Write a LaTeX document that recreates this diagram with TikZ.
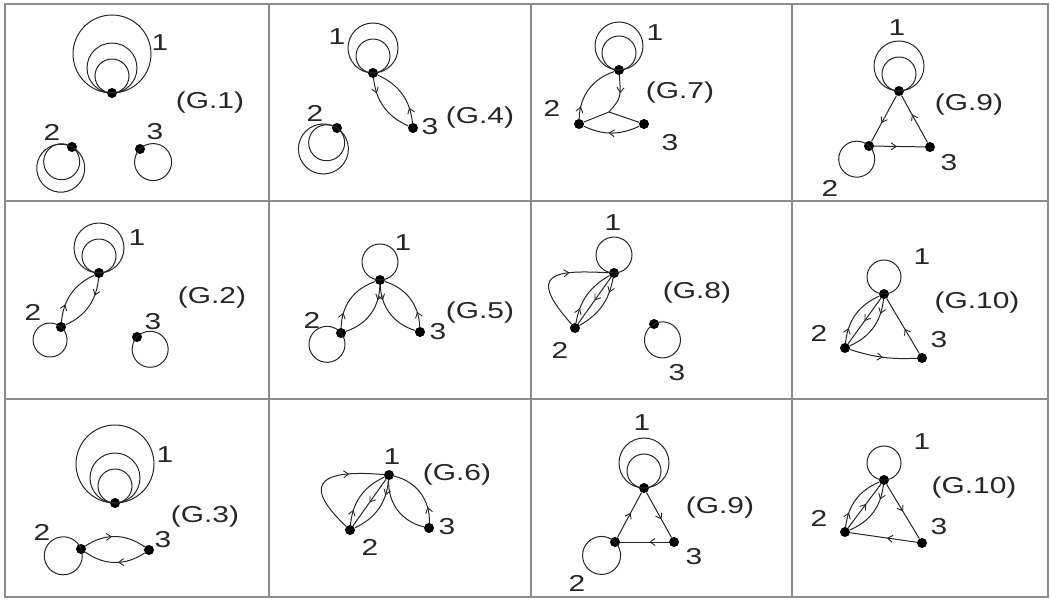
\documentclass[tikz,border=0pt]{standalone}
\usepackage{fontspec}
\newfontfamily\lblfont[FakeStretch=1.3]{Liberation Sans}
\usetikzlibrary{arrows.meta,decorations.markings}
\begin{document}
\begin{tikzpicture}[x=1pt,y=-1pt,
  dot/.style={circle,fill=black,inner sep=0pt,minimum size=10pt},
  edge/.style={draw=black!85,line width=1pt},
  arr/.style={postaction={decorate},decoration={markings,mark=at position #1 with {\arrow{Straight Barb[length=5pt,width=7pt,line width=0.9pt]}}}},
  lbl/.style={font=\lblfont\fontsize{23}{23}\selectfont,inner sep=0pt,text=black!85},
  gridline/.style={draw=black!45,line width=1.8pt}]
\useasboundingbox (0,0) rectangle (1050,600);
% grid
\draw[gridline] (5,4) rectangle (1048,597);
\draw[gridline] (269,4) -- (269,597);
\draw[gridline] (531,4) -- (531,597);
\draw[gridline] (792,4) -- (792,597);
\draw[gridline] (5,201) -- (1048,201);
\draw[gridline] (5,399) -- (1048,399);

% ---------- G.1 ----------
\node[dot] (a1) at (112,93) {};
\node[dot] (a2) at (72,147) {};
\node[dot] (a3) at (140,149) {};
\draw[edge] (a1.center) arc[start angle=-90,delta angle=360,radius=39pt];
\draw[edge] (a1.center) arc[start angle=-90,delta angle=360,radius=25pt];
\draw[edge] (a1.center) arc[start angle=-90,delta angle=360,radius=17pt];
\draw[edge] (a2.center) arc[start angle=62,delta angle=360,radius=24pt];
\draw[edge] (a2.center) arc[start angle=55,delta angle=360,radius=18pt];
\draw[edge] (a3.center) arc[start angle=135,delta angle=360,radius=18.5pt];
\node[lbl] (a1l) at (160,43) {1};
\node[lbl] (a2l) at (52,132) {2};
\node[lbl] (a3l) at (155,132) {3};
\node[lbl] (at) at (210,103) {(G.1)};

% ---------- G.4 ----------
\node[dot] (b1) at (373,73) {};
\node[dot] (b2) at (337,128) {};
\node[dot] (b3) at (413,128) {};
\draw[edge] (b1.center) arc[start angle=-90,delta angle=360,radius=25pt];
\draw[edge] (b1.center) arc[start angle=-90,delta angle=360,radius=17pt];
\draw[edge] (b2.center) arc[start angle=57,delta angle=360,radius=25pt];
\draw[edge] (b2.center) arc[start angle=55,delta angle=360,radius=18pt];
\draw[edge,arr=0.25] (b1) to[bend right=30] (b3);
\draw[edge,arr=0.25] (b3) to[bend right=30] (b1);
\node[lbl] (b1l) at (337,37) {1};
\node[lbl] (b2l) at (315,113) {2};
\node[lbl] (b3l) at (430,127) {3};
\node[lbl] (bt) at (480,118) {(G.4)};

% ---------- G.7 ----------
\node[dot] (c1) at (619,70) {};
\node[dot] (c2) at (579,124) {};
\node[dot] (c3) at (644,124) {};
\coordinate (cj) at (609,112);
\draw[edge] (c1.center) arc[start angle=-90,delta angle=360,radius=24pt];
\draw[edge] (c1.center) arc[start angle=-90,delta angle=360,radius=17pt];
\draw[edge,arr=0.2] (c2) to[bend left=35] (c1);
\draw[edge,arr=0.45] (c1) .. controls (621,98) .. (cj);
\draw[edge] (c2) -- (cj) -- (c3);
\draw[edge,arr=0.55] (c3) to[bend left=25] (c2);
\node[lbl] (c1l) at (655,33) {1};
\node[lbl] (c2l) at (552,108) {2};
\node[lbl] (c3l) at (670,143) {3};
\node[lbl] (ct) at (680,93) {(G.7)};

% ---------- G.9 (top) ----------
\node[dot] (d1) at (899,91) {};
\node[dot] (d2) at (869,146) {};
\node[dot] (d3) at (930,147) {};
\draw[edge] (d1.center) arc[start angle=-90,delta angle=360,radius=25pt];
\draw[edge] (d1.center) arc[start angle=-90,delta angle=360,radius=17pt];
\draw[edge] (d2.center) arc[start angle=47,delta angle=360,radius=18pt];
\draw[edge,arr=0.6] (d1) -- (d2);
\draw[edge,arr=0.6] (d3) -- (d1);
\draw[edge,arr=0.45] (d2) -- (d3);
\node[lbl] (d1l) at (897,28) {1};
\node[lbl] (d2l) at (830,188) {2};
\node[lbl] (d3l) at (949,163) {3};
\node[lbl] (dt) at (969,105) {(G.9)};

% ---------- G.2 ----------
\node[dot] (e1) at (99,273) {};
\node[dot] (e2) at (61,327) {};
\node[dot] (e3) at (137,337) {};
\draw[edge] (e1.center) arc[start angle=-90,delta angle=360,radius=25pt];
\draw[edge] (e1.center) arc[start angle=-90,delta angle=360,radius=17pt];
\draw[edge] (e2.center) arc[start angle=50,delta angle=360,radius=17pt];
\draw[edge] (e3.center) arc[start angle=137,delta angle=360,radius=18pt];
\draw[edge,arr=0.3] (e2) to[bend left=30] (e1);
\draw[edge,arr=0.3] (e1) to[bend left=30] (e2);
\node[lbl] (e1l) at (137,238) {1};
\node[lbl] (e2l) at (33,312) {2};
\node[lbl] (e3l) at (153,322) {3};
\node[lbl] (et) at (212,298) {(G.2)};

% ---------- G.5 ----------
\node[dot] (f1) at (380,280) {};
\node[dot] (f2) at (341,333) {};
\node[dot] (f3) at (420,332) {};
\draw[edge] (f1.center) arc[start angle=-90,delta angle=360,radius=18pt];
\draw[edge] (f2.center) arc[start angle=39,delta angle=360,radius=18pt];
\draw[edge,arr=0.25] (f2) to[bend left=35] (f1);
\draw[edge,arr=0.25] (f1) to[bend left=35] (f2);
\draw[edge,arr=0.25] (f1) to[bend right=35] (f3);
\draw[edge,arr=0.25] (f3) to[bend right=35] (f1);
\node[lbl] (f1l) at (403,243) {1};
\node[lbl] (f2l) at (312,320) {2};
\node[lbl] (f3l) at (438,332) {3};
\node[lbl] (ft) at (480,313) {(G.5)};

% ---------- G.8 ----------
\node[dot] (g1) at (614,273) {};
\node[dot] (g2) at (575,328) {};
\node[dot] (g3) at (654,324) {};
\draw[edge] (g1.center) arc[start angle=-90,delta angle=360,radius=18pt];
\draw[edge] (g3.center) arc[start angle=118,delta angle=360,radius=18pt];
\draw[edge,arr=0.65] (g2) .. controls (525,272) and (555,270) .. (g1);
\draw[edge,arr=0.25] (g2) to[bend left=25] (g1);
\draw[edge,arr=0.5] (g1) -- (g2);
\draw[edge,arr=0.25] (g1) to[bend left=25] (g2);
\node[lbl] (g1l) at (613,223) {1};
\node[lbl] (g2l) at (560,350) {2};
\node[lbl] (g3l) at (677,373) {3};
\node[lbl] (gt) at (697,293) {(G.8)};

% ---------- G.10 (middle) ----------
\node[dot] (h1) at (884,294) {};
\node[dot] (h2) at (845,348) {};
\node[dot] (h3) at (922,358) {};
\draw[edge] (h1.center) arc[start angle=-90,delta angle=360,radius=17pt];
\draw[edge,arr=0.25] (h2) to[bend left=30] (h1);
\draw[edge,arr=0.5] (h1) -- (h2);
\draw[edge,arr=0.25] (h1) to[bend left=30] (h2);
\draw[edge,arr=0.45] (h3) -- (h1);
\draw[edge,arr=0.5] (h2) to[bend right=10] (h3);
\node[lbl] (h1l) at (922,257) {1};
\node[lbl] (h2l) at (819,333) {2};
\node[lbl] (h3l) at (939,340) {3};
\node[lbl] (ht) at (977,303) {(G.10)};

% ---------- G.3 ----------
\node[dot] (i1) at (115,503) {};
\node[dot] (i2) at (81,549) {};
\node[dot] (i3) at (149,550) {};
\draw[edge] (i1.center) arc[start angle=-90,delta angle=360,radius=39pt];
\draw[edge] (i1.center) arc[start angle=-90,delta angle=360,radius=25pt];
\draw[edge] (i1.center) arc[start angle=-90,delta angle=360,radius=17pt];
\draw[edge] (i2.center) arc[start angle=21,delta angle=360,radius=19pt];
\draw[edge,arr=0.45] (i2) to[bend left=35] (i3);
\draw[edge,arr=0.45] (i3) to[bend left=35] (i2);
\node[lbl] (i1l) at (165,455) {1};
\node[lbl] (i2l) at (42,532) {2};
\node[lbl] (i3l) at (163,540) {3};
\node[lbl] (it) at (205,517) {(G.3)};

% ---------- G.6 ----------
\node[dot] (j1) at (389,475) {};
\node[dot] (j2) at (350,530) {};
\node[dot] (j3) at (429,528) {};
\draw[edge,arr=0.7] (j2) .. controls (295,478) and (330,470) .. (j1);
\draw[edge,arr=0.25] (j2) to[bend left=30] (j1);
\draw[edge,arr=0.5] (j1) -- (j2);
\draw[edge,arr=0.25] (j1) to[bend left=30] (j2);
\draw[edge] (j1) to[bend right=40] (j3);
\draw[edge,arr=0.25] (j3) to[bend right=40] (j1);
\node[lbl] (j1l) at (392,457) {1};
\node[lbl] (j2l) at (370,547) {2};
\node[lbl] (j3l) at (447,527) {3};
\node[lbl] (jt) at (457,475) {(G.6)};

% ---------- G.9 (bottom) ----------
\node[dot] (k1) at (644,488) {};
\node[dot] (k2) at (615,542) {};
\node[dot] (k3) at (674,542) {};
\draw[edge] (k1.center) arc[start angle=-90,delta angle=360,radius=25pt];
\draw[edge] (k1.center) arc[start angle=-90,delta angle=360,radius=17pt];
\draw[edge] (k2.center) arc[start angle=45,delta angle=360,radius=19pt];
\draw[edge,arr=0.55] (k2) -- (k1);
\draw[edge,arr=0.6] (k1) -- (k3);
\draw[edge,arr=0.4] (k3) -- (k2);
\node[lbl] (k1l) at (642,423) {1};
\node[lbl] (k2l) at (577,583) {2};
\node[lbl] (k3l) at (694,557) {3};
\node[lbl] (kt) at (720,508) {(G.9)};

% ---------- G.10 (bottom) ----------
\node[dot] (l1) at (884,480) {};
\node[dot] (l2) at (845,532) {};
\node[dot] (l3) at (922,543) {};
\draw[edge] (l1.center) arc[start angle=-90,delta angle=360,radius=17pt];
\draw[edge,arr=0.25] (l2) to[bend left=30] (l1);
\draw[edge,arr=0.55] (l2) -- (l1);
\draw[edge,arr=0.25] (l1) to[bend left=30] (l2);
\draw[edge,arr=0.5] (l1) -- (l3);
\draw[edge,arr=0.45] (l3) -- (l2);
\node[lbl] (l1l) at (922,442) {1};
\node[lbl] (l2l) at (819,518) {2};
\node[lbl] (l3l) at (939,527) {3};
\node[lbl] (lt) at (974,488) {(G.10)};
\end{tikzpicture}
\end{document}
